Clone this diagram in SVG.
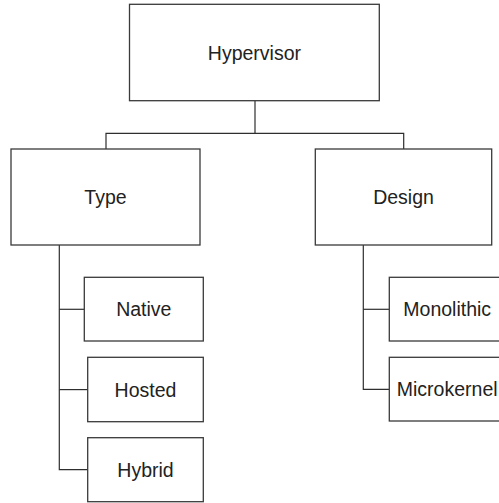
<svg xmlns="http://www.w3.org/2000/svg" width="499" height="503" viewBox="0 0 499 503">
  <style>
    .box { fill: #ffffff; stroke: #3a3a3a; stroke-width: 1.3; }
    .lbl { font-family: "Liberation Sans", Arial, sans-serif; font-size: 19.5px; fill: #222222; text-anchor: middle; }
    .wire { fill: none; stroke: #2e2e2e; stroke-width: 1.2; }
  </style>
  <rect width="499" height="503" fill="#ffffff"/>

  <!-- connectors -->
  <g id="connectors">
    <path class="wire" d="M255,100.7 V133.3"/>
    <path class="wire" d="M106,149 V133.3 H403.7 V149"/>
    <path class="wire" d="M59.3,245 V469.7 H87.7"/>
    <path class="wire" d="M59.3,309.3 H84.3"/>
    <path class="wire" d="M59.3,389.6 H87.7"/>
    <path class="wire" d="M363.3,245 V389.3 H389.3"/>
    <path class="wire" d="M363.3,309.3 H389.3"/>
  </g>

  <g id="hypervisor">
    <rect class="box" x="129.5" y="4.3" width="249.8" height="96.4"/>
    <text class="lbl" x="254.4" y="59.5">Hypervisor</text>
  </g>

  <g id="type">
    <rect class="box" x="11" y="149" width="189" height="96"/>
    <text class="lbl" x="105.5" y="204">Type</text>
  </g>

  <g id="design">
    <rect class="box" x="315.3" y="149" width="176.4" height="96"/>
    <text class="lbl" x="403.5" y="204">Design</text>
  </g>

  <g id="native">
    <rect class="box" x="84.3" y="277.3" width="119" height="63.7"/>
    <text class="lbl" x="143.8" y="316.2">Native</text>
  </g>

  <g id="hosted">
    <rect class="box" x="87.7" y="357.3" width="115.6" height="64.4"/>
    <text class="lbl" x="145.5" y="396.5">Hosted</text>
  </g>

  <g id="hybrid">
    <rect class="box" x="87.7" y="437.7" width="115.6" height="64"/>
    <text class="lbl" x="145.5" y="476.7">Hybrid</text>
  </g>

  <g id="monolithic">
    <rect class="box" x="389.3" y="277.3" width="120" height="63.7"/>
    <text class="lbl" x="447.2" y="316.2">Monolithic</text>
  </g>

  <g id="microkernel">
    <rect class="box" x="389.3" y="357.3" width="120" height="63.7"/>
    <text class="lbl" x="447.2" y="396.2">Microkernel</text>
  </g>
</svg>
